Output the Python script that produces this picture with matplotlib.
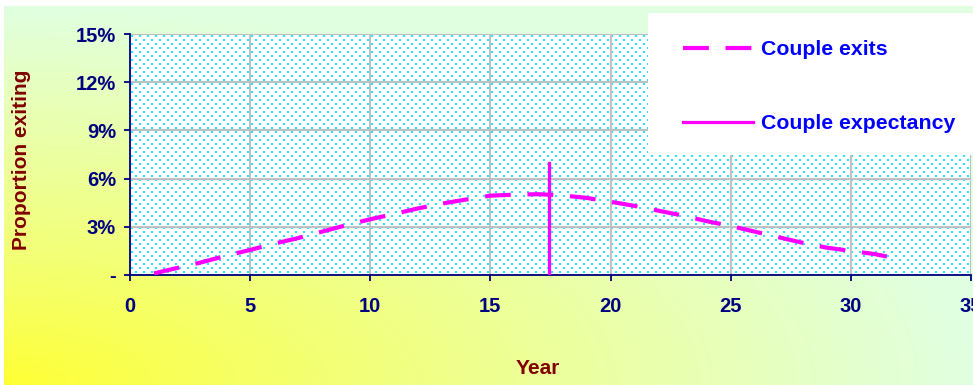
import numpy as np
import matplotlib.pyplot as plt
from matplotlib.patches import Rectangle

plt.rcParams['font.family'] = ['Liberation Sans', 'DejaVu Sans']

# share of couples exiting each year (percent)
years = [1, 2, 3, 4, 5, 6, 7, 8, 9, 10, 11, 12, 13, 14, 15, 16,
         17, 18, 19, 20, 21, 22, 23, 24, 25, 26, 27, 28, 29, 30, 31, 31.5]
exits = [0.1, 0.45, 0.8, 1.2, 1.56, 1.95, 2.3, 2.7, 3.1, 3.47, 3.8, 4.15,
         4.45, 4.7, 4.94, 5.0, 5.03, 4.95, 4.8, 4.56, 4.3, 4.0, 3.7, 3.35,
         3.05, 2.7, 2.35, 2.0, 1.7, 1.5, 1.3, 1.15]
expectancy_year = 17.45
expectancy_height = 7.0

x_ticks = [0, 5, 10, 15, 20, 25, 30, 35]
y_ticks = [0, 3, 6, 9, 12, 15]
y_labels = ["-", "3%", "6%", "9%", "12%", "15%"]

W, H = 973, 385
fig = plt.figure(figsize=(W / 100, H / 100), dpi=100)

navy = "#000080"
maroon = "#800000"
magenta = "#ff00ff"

# corner gradient: yellow bottom-left fading to pale green
bg = fig.add_axes([4 / W, 0, (W - 4) / W, (H - 6) / H])
bg.set_zorder(-5)
gh, gw = H - 6, W - 4
u = np.linspace(0, 1, gw)[None, :]
v = np.linspace(1, 0, gh)[:, None]
t = np.clip(np.sqrt(u ** 2 + v ** 2), 0, 1) ** 0.9
yellow = np.array([1.0, 1.0, 0.2])
green = np.array([0.88, 1.0, 0.88])
grad = yellow[None, None, :] * (1 - t[..., None]) + green[None, None, :] * t[..., None]
bg.imshow(grad, aspect="auto", extent=(0, 1, 0, 1), interpolation="bilinear")
bg.set_axis_off()

left, right, top, bottom = 130, 971, 34, 275
ax = fig.add_axes([left / W, 1 - bottom / H, (right - left) / W, (bottom - top) / H])

# dotted cyan fill of the plot area
ph, pw = bottom - top, right - left
tex = np.ones((ph, pw, 3))
for r in range(1, ph, 4):
    off = 4 if (r // 4) % 2 else 0
    for c in range(1 + off, pw, 8):
        tex[r:r + 2, c:c + 2] = [0.1, 0.92, 1.0]
ax.imshow(tex, aspect="auto", extent=(0, 35, 0, 15), interpolation="nearest", zorder=0)

ax.plot(years, exits, color=magenta, lw=3, dashes=(6.2, 4), label="Couple exits",
        solid_capstyle="butt", zorder=3)
ax.plot([expectancy_year, expectancy_year], [0, expectancy_height], color=magenta,
        lw=2.3, label="Couple expectancy", zorder=3)

ax.set_xlim(0, 35)
ax.set_ylim(0, 15)
ax.set_xticks(x_ticks)
ax.set_yticks(y_ticks)
ax.set_yticklabels(y_labels)
ax.grid(True, color="#c0c0c0", lw=1.5)
ax.set_axisbelow(True)
for side in ["top", "right"]:
    ax.spines[side].set_visible(False)
for side in ["left", "bottom"]:
    ax.spines[side].set_color(navy)
    ax.spines[side].set_linewidth(1.3)
ax.tick_params(axis="both", colors=navy, length=4, width=1.3, direction="out",
               labelsize=14.5)
ax.tick_params(axis="x", pad=12)
ax.tick_params(axis="y", pad=6)
for lab in ax.get_xticklabels() + ax.get_yticklabels():
    lab.set_fontweight("bold")
    lab.set_color(navy)

fig.text(22 / W, 1 - 160 / H, "Proportion exiting", rotation=90, ha="center", va="center",
         color=maroon, fontsize=15, fontweight="bold")
fig.text(538 / W, 1 - 368 / H, "Year", ha="center", va="center",
         color=maroon, fontsize=15, fontweight="bold")

# white legend panel in the top-right corner
fig.patches.append(Rectangle((648 / W, 1 - 155 / H), (W - 648) / W, 142 / H,
                             transform=fig.transFigure, facecolor="white",
                             edgecolor="none", zorder=3))
leg = fig.legend(loc="upper left", bbox_to_anchor=(683 / W, 1 - 40 / H), frameon=False,
                 borderaxespad=0, borderpad=0, handlelength=3.3, handletextpad=0.35,
                 labelspacing=2.6, prop={"size": 15.3, "weight": "bold"})
leg.set_zorder(5)
for txt in leg.get_texts():
    txt.set_color("#0000ff")

fig.savefig("out.png", dpi=100)
